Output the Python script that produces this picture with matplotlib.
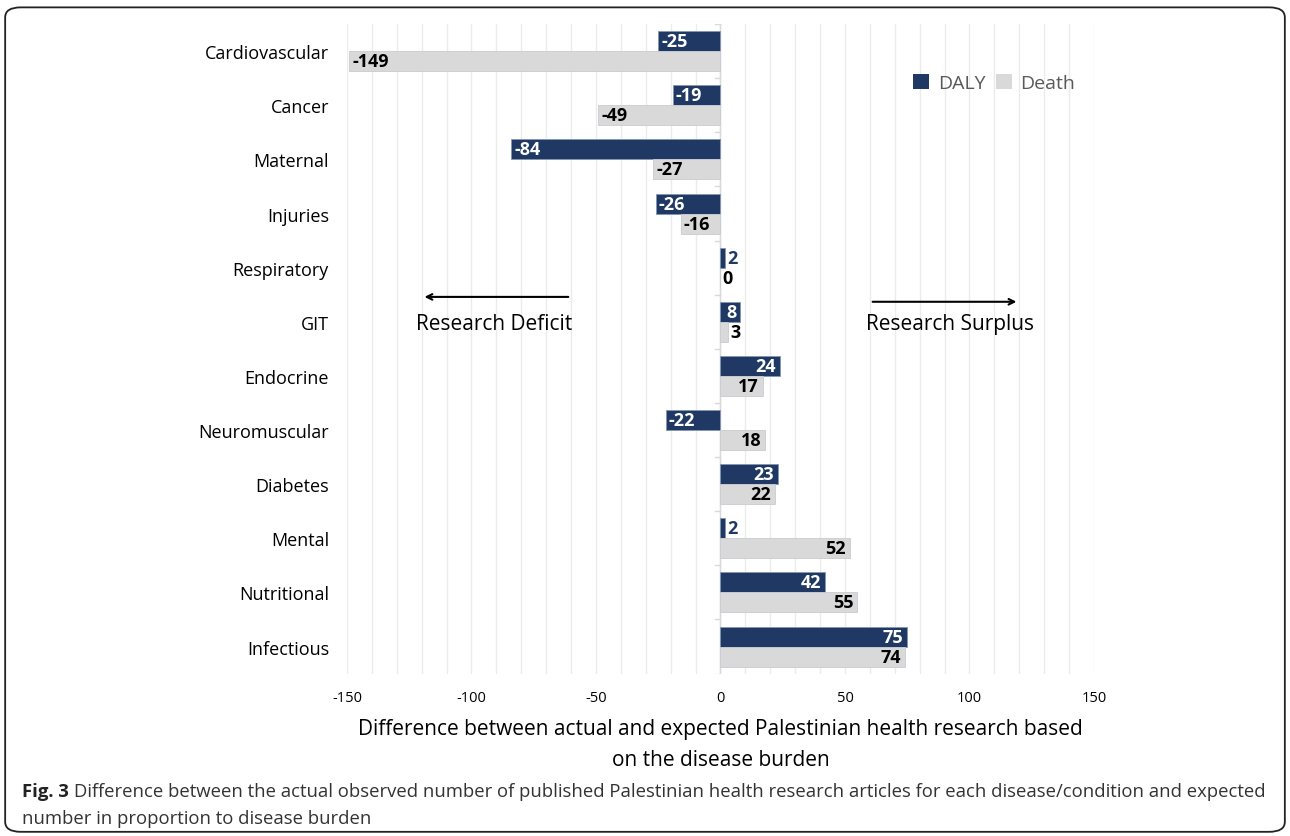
import matplotlib.pyplot as plt
from matplotlib.patches import FancyBboxPatch

plt.rcParams['font.family'] = ['Open Sans', 'DejaVu Sans']

categories = ['Cardiovascular', 'Cancer', 'Maternal', 'Injuries', 'Respiratory', 'GIT',
              'Endocrine', 'Neuromuscular', 'Diabetes', 'Mental', 'Nutritional', 'Infectious']
daly = [-25, -19, -84, -26, 2, 8, 24, -22, 23, 2, 42, 75]
death = [-149, -49, -27, -16, 0, 3, 17, 18, 22, 52, 55, 74]
x_ticks = [-150, -100, -50, 0, 50, 100, 150]

navy = '#1f3864'
grey = '#d9d9d9'

fig = plt.figure(figsize=(12.9, 8.37), dpi=100)
ax = fig.add_axes([0.269, 0.194, 0.579, 0.776])

h = 0.37
ypos = list(range(len(categories)))
ax.barh([y - h / 2 for y in ypos], daly, height=h, color=navy, edgecolor='#8496b0', linewidth=0.6, zorder=3)
ax.barh([y + h / 2 for y in ypos], death, height=h, color=grey, edgecolor='#c8cbd4', linewidth=0.6, zorder=3)


def put_label(v, y, inside_color, outside_color):
    # excel-style "inside end" labels, small bars get the label just outside
    if abs(v) < 5:
        ax.annotate(str(v), (max(v, 0), y), xytext=(1.5, 0), textcoords='offset points',
                    ha='left', va='center', fontsize=13, fontweight='bold', color=outside_color, zorder=4)
    elif v < 0:
        ax.annotate(str(v), (v, y), xytext=(2, 0), textcoords='offset points',
                    ha='left', va='center', fontsize=13, fontweight='bold', color=inside_color, zorder=4)
    else:
        ax.annotate(str(v), (v, y), xytext=(-3, 0), textcoords='offset points',
                    ha='right', va='center', fontsize=13, fontweight='bold', color=inside_color, zorder=4)


for y, v in zip(ypos, daly):
    put_label(v, y - h / 2, 'white', navy)
for y, v in zip(ypos, death):
    put_label(v, y + h / 2, 'black', 'black')

ax.set_xlim(-150, 150)
ax.set_ylim(len(categories) - 0.5, -0.5)
ax.set_xticks(x_ticks)
ax.set_xticklabels([str(t) for t in x_ticks], fontsize=10.5)
ax.set_xticks(range(-150, 151, 10), minor=True)
ax.grid(True, axis='x', which='both', color='#ebebeb', linewidth=1, zorder=0)
ax.tick_params(axis='x', which='both', length=0, pad=12)
ax.set_yticks(ypos)
ax.set_yticklabels(categories, fontsize=13)
ax.tick_params(axis='y', length=0, pad=13)
for s in ax.spines.values():
    s.set_visible(False)

# zero line with small category ticks
ax.axvline(0, color='#d9d9d9', linewidth=1, zorder=2)
for b in range(len(categories) + 1):
    ax.plot([-2.2, 0], [b - 0.5, b - 0.5], color='#d9d9d9', linewidth=1, zorder=2)

ax.set_xlabel('Difference between actual and expected Palestinian health research based\non the disease burden',
              fontsize=15, labelpad=9.5, linespacing=1.57)

# legend
ax.bar([0], [0], color=navy, label='DALY')
ax.bar([0], [0], color=grey, label='Death')
leg = ax.legend(loc='upper left', bbox_to_anchor=(0.735, 0.95), ncol=2, frameon=False, fontsize=14,
                handlelength=0.8, handleheight=0.8, handletextpad=0.45, columnspacing=0.55)
for t in leg.get_texts():
    t.set_color('#595959')

# arrows
ax.annotate('', xy=(-120, 4.54), xytext=(-60, 4.54),
            arrowprops=dict(arrowstyle='->', color='black', lw=1.5))
ax.text(-91, 5.04, 'Research Deficit', ha='center', va='center', fontsize=15)
ax.annotate('', xy=(120, 4.63), xytext=(60, 4.63),
            arrowprops=dict(arrowstyle='->', color='black', lw=1.5))
ax.text(92, 5.04, 'Research Surplus', ha='center', va='center', fontsize=15)

# frame and caption
frame = FancyBboxPatch((0.004, 0.005), 0.992, 0.985, boxstyle='round,pad=0,rounding_size=0.012',
                       transform=fig.transFigure, fill=False, edgecolor='#222222', linewidth=1.3)
fig.patches.append(frame)

cap_size = 13.3
t1 = fig.text(0.017, 0.054, 'Fig. 3', fontsize=cap_size, fontweight='bold', color='#222222', va='center')
fig.canvas.draw()
bb = t1.get_window_extent()
x2 = (bb.x1 + 5) / fig.bbox.width
fig.text(x2, 0.054, 'Difference between the actual observed number of published Palestinian health research articles for each disease/condition and expected',
         fontsize=cap_size, color='#333333', va='center')
fig.text(0.017, 0.022, 'number in proportion to disease burden', fontsize=cap_size, color='#333333', va='center')

fig.savefig('out.png', dpi=100)
